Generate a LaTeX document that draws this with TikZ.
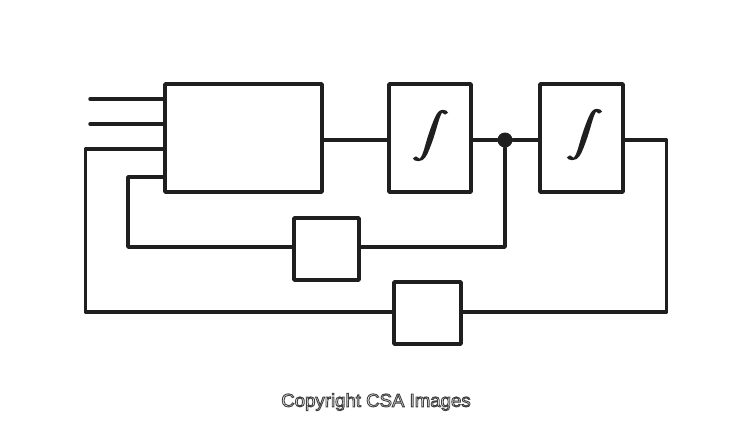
\documentclass[tikz,border=0pt]{standalone}
\usepackage{fontspec}
\setmainfont{Liberation Sans}
\colorlet{myblack}{black!88}
\tikzset{
  wire/.style ={line width=0.07cm, color=myblack, line cap=round, line join=round},
  blockbox/.style ={shape=rectangle, draw=myblack, line width=0.075cm, inner sep=0, rounded corners=0.5pt},
  intsign/.style ={inner sep=0, xscale=2.1, yscale=1.28, transform shape, color=myblack},
  junction/.style ={shape=circle, fill=myblack, inner sep=0, minimum size=0.30cm},
  copyright/.style ={inner sep=0, font=\fontsize{10.6pt}{14pt}\selectfont}
}

\begin{document}
\begin{tikzpicture}
\useasboundingbox (0,0) rectangle (15,8.56);
\node[blockbox, minimum width=3.14cm, minimum height=2.16cm] (main) at (4.87,5.80) {};
\node[blockbox, minimum width=1.64cm, minimum height=2.16cm] (int1) at (8.60,5.80) {};
\node[blockbox, minimum width=1.66cm, minimum height=2.16cm] (int2) at (11.63,5.80) {};
\node[blockbox, minimum width=1.30cm, minimum height=1.24cm] (gain1) at (6.53,3.58) {};
\node[blockbox, minimum width=1.34cm, minimum height=1.24cm] (gain2) at (8.55,2.30) {};
\node[intsign] (sign1) at (8.61,5.85) {\special{pdf:code 2 Tr 0.55 w 0.12 G}$\displaystyle\int$\special{pdf:code 0 Tr}};
\node[intsign] (sign2) at (11.69,5.87) {\special{pdf:code 2 Tr 0.55 w 0.12 G}$\displaystyle\int$\special{pdf:code 0 Tr}};
\node[junction] (dot) at (10.10,5.76) {};
\coordinate (in1) at (1.80,6.58);
\coordinate (in2) at (1.80,6.08);
\coordinate (out) at (13.33,5.76);
\coordinate (back1) at (2.56,5.02);
\coordinate (back2) at (1.71,5.58);
\coordinate (low1) at (2.56,3.62);
\coordinate (low2) at (1.71,2.32);
\draw[wire] (in1) -- (in1 -| main.west);
\draw[wire] (in2) -- (in2 -| main.west);
\draw[wire] (main.east |- dot) -- (int1.west |- dot);
\draw[wire] (int1.east |- dot) -- (dot) -- (int2.west |- dot);
\draw[wire] (int2.east |- dot) -- (out) -- (out |- low2) -- (gain2.east |- low2);
\draw[wire] (gain2.west |- low2) -- (low2) -- (back2) -- (back2 -| main.west);
\draw[wire] (dot) -- (dot |- low1) -- (gain1.east |- low1);
\draw[wire] (gain1.west |- low1) -- (low1) -- (back1) -- (back1 -| main.west);
\node[copyright] (credit) at (7.52,0.52) {\special{pdf:code 2 Tr 0.5 w 0.25 G 0.95 g}Copyright CSA Images\special{pdf:code 0 Tr}};
\end{tikzpicture}
\end{document}
